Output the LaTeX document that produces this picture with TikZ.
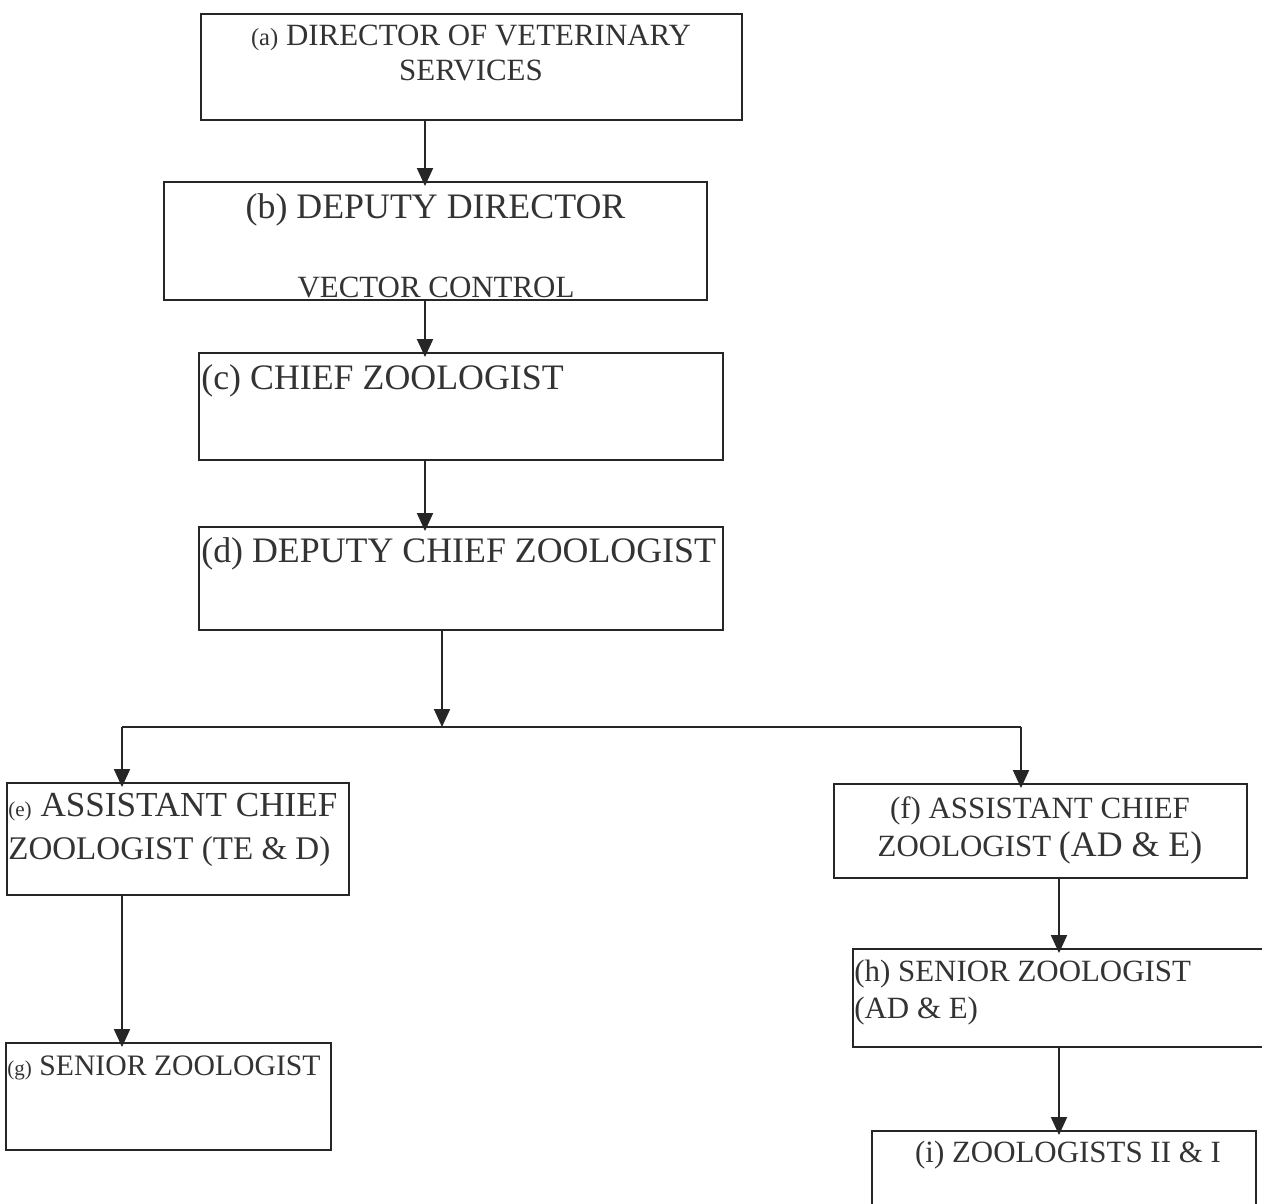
\documentclass[tikz,border=0pt]{standalone}
\usepackage{fontspec}
\setmainfont{Liberation Serif}
\usetikzlibrary{arrows.meta,positioning,calc}
\tikzset{
  post/.style={rectangle, draw=black!85, line width=1.1pt, fill=none, inner sep=0pt},
  parr/.style={-{Triangle[length=3.6mm, width=3.2mm]}, line width=1.1pt, black!85, shorten >=-1mm},
  txt/.style={inner sep=0pt, text=black!80}
}

\begin{document}
\begin{tikzpicture}[
    x=0.02cm, y=-0.02cm,
    fbig/.style={font=\fontsize{20.4}{24.5}\selectfont},
    fmid/.style={font=\fontsize{17.6}{20}\selectfont},
    link/.style={line width=1.1pt, black!85}
  ]
    \useasboundingbox (0,0) rectangle (1262,1204);
    \clip (0,0) rectangle (1262,1204);

    \node[post, minimum width=10.82cm, minimum height=2.12cm] (dvs) at (471.5,67) {};
    \node[post, minimum width=10.86cm, minimum height=2.36cm] (ddvs) at (435.5,241) {};
    \node[post, minimum width=10.48cm, minimum height=2.14cm] (cz) at (461,406.5) {};
    \node[post, minimum width=10.48cm, minimum height=2.06cm] (dcz) at (461,578.5) {};
    \node[post, minimum width=6.84cm, minimum height=2.24cm] (acz1) at (178,839) {};
    \node[post, minimum width=8.26cm, minimum height=1.88cm] (acz2) at (1040.5,831) {};
    \node[post, minimum width=6.5cm, minimum height=2.14cm] (sz1) at (168.5,1096.5) {};
    \node[post, minimum width=8.54cm, minimum height=1.96cm] (sz2) at (1066.5,998) {};
    \node[post, minimum width=7.68cm, minimum height=2.18cm] (zoo) at (1064,1185.5) {};

    \node[txt, font=\fontsize{17.6}{19.9}\selectfont, align=center, anchor=north] (dvs-t) at (471,24.5)
      {{\fontsize{14}{16}\selectfont(a)} DIRECTOR OF VETERINARY\\SERVICES};
    \node[txt, fbig, anchor=base] (ddvs-t) at (435.5,218) {(b) DEPUTY DIRECTOR};
    \node[txt, fmid, anchor=base] (vc-t) at (436,297) {VECTOR CONTROL};
    \node[txt, fbig, anchor=base west] (cz-t) at (201,389) {(c) CHIEF ZOOLOGIST};
    \node[txt, fbig, anchor=base west] (dcz-t) at (201,562) {(d) DEPUTY CHIEF ZOOLOGIST};
    \node[txt, font=\fontsize{20}{24.5}\selectfont, align=left, anchor=north west] (acz1-t) at (8,793)
      {{\fontsize{12}{14}\selectfont(e)} ASSISTANT CHIEF\\{\fontsize{18.8}{22}\selectfont ZOOLOGIST (TE \& D)}};
    \node[txt, font=\fontsize{17.6}{21.6}\selectfont, align=center, anchor=north] (acz2-t) at (1040,796)
      {(f) ASSISTANT CHIEF\\ZOOLOGIST {\fontsize{20.4}{24}\selectfont(AD \& E)}};
    \node[txt, font=\fontsize{16.9}{20}\selectfont, anchor=base west] (sz1-t) at (7,1075)
      {{\fontsize{12}{14}\selectfont(g)} SENIOR ZOOLOGIST};
    \node[txt, font=\fontsize{17.6}{21}\selectfont, align=left, anchor=north west] (sz2-t) at (854,960)
      {(h) SENIOR ZOOLOGIST\\(AD \& E)};
    \node[txt, fmid, anchor=base] (zoo-t) at (1068,1162) {(i) ZOOLOGISTS II \& I};

    \coordinate (spine) at (425,0);
    \coordinate (split) at (442,727);
    \coordinate (lt) at (122,727);
    \coordinate (rt) at (1021,727);
    \coordinate (rspine) at (1059,0);

    \draw[parr] (dvs.south -| spine) -- (ddvs.north -| spine);
    \draw[parr] (ddvs.south -| spine) -- (cz.north -| spine);
    \draw[parr] (cz.south -| spine) -- (dcz.north -| spine);
    \draw[parr, shorten >=0pt] (dcz.south -| split) -- (split);
    \draw[link] (lt) -- (rt);
    \draw[parr] (lt) -- (acz1.north -| lt);
    \draw[parr] (rt) -- (acz2.north -| rt);
    \draw[parr] (acz1.south -| lt) -- (sz1.north -| lt);
    \draw[parr] (acz2.south -| rspine) -- (sz2.north -| rspine);
    \draw[parr] (sz2.south -| rspine) -- (zoo.north -| rspine);
  \end{tikzpicture}
\end{document}
